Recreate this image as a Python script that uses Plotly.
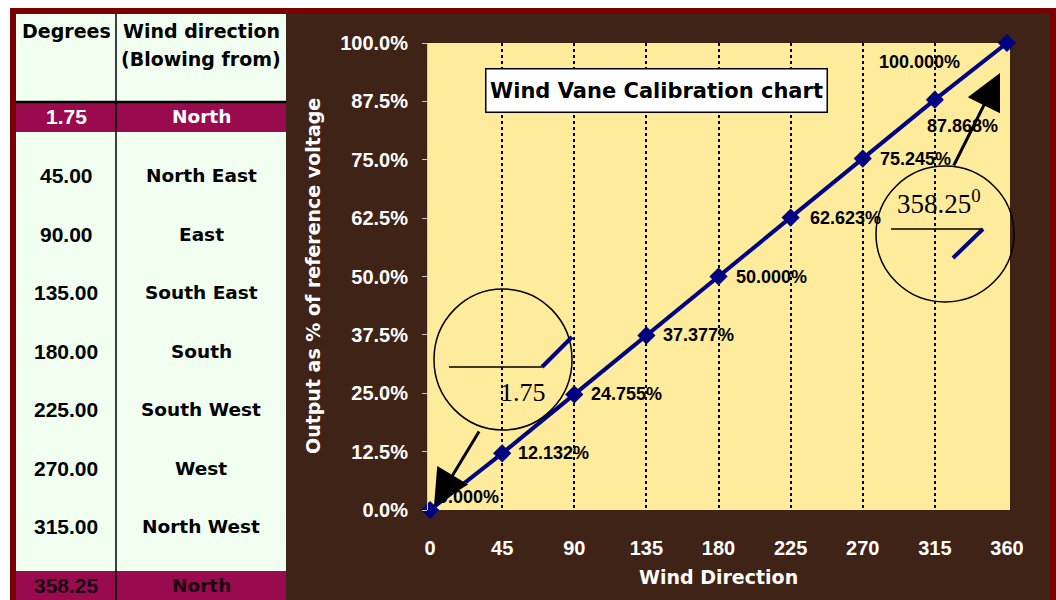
import plotly.graph_objects as go

# ---------------- data ----------------
wind_direction = [0, 45, 90, 135, 180, 225, 270, 315, 360]
output_fraction = [0.0, 0.12132, 0.24755, 0.37377, 0.50, 0.62623, 0.75245, 0.87868, 1.0]
point_labels = ["0.000%", "12.132%", "24.755%", "37.377%", "50.000%",
                "62.623%", "75.245%", "87.868%", "100.000%"]
x_ticks = [0, 45, 90, 135, 180, 225, 270, 315, 360]
y_ticks = [0, 0.125, 0.25, 0.375, 0.5, 0.625, 0.75, 0.875, 1.0]
y_tick_text = ["0.0%", "12.5%", "25.0%", "37.5%", "50.0%", "62.5%", "75.0%", "87.5%", "100.0%"]
grid_x = [45, 90, 135, 180, 225, 270, 315]

table_degrees = ["1.75", "45.00", "90.00", "135.00", "180.00", "225.00", "270.00", "315.00", "358.25"]
table_dirs = ["North", "North East", "East", "South East", "South", "South West", "West",
              "North West", "North"]
highlight_rows = [0, 8]

# ---------------- geometry helpers (pixel -> paper) ----------------
W, H = 1056, 600
PL, PR, PT, PB = 428, 1010, 43, 510


def px(x):
    return (x - PL) / (PR - PL)


def py(y):
    return (PB - y) / (PB - PT)


BROWN = "#3F2316"
DARKRED = "#7A0000"
MINT = "#F0FFF0"
HILITE = "#990B4E"
NAVY = "#000080"
PLOTBG = "#FFEB9C"

WORD_FONT = "DejaVu Sans"
NUM_FONT = "Liberation Sans, Arial"

fig = go.Figure()

fig.add_trace(go.Scatter(
    x=wind_direction, y=output_fraction, mode="lines+markers",
    line=dict(color=NAVY, width=4),
    marker=dict(symbol="diamond", size=14, color=NAVY),
    cliponaxis=False, showlegend=False, hoverinfo="skip",
))

shapes = []
annotations = []


def rect(x0, x1, y0, y1, color):
    shapes.append(dict(type="rect", xref="paper", yref="paper", x0=px(x0), x1=px(x1),
                       y0=py(y1), y1=py(y0), fillcolor=color, line_width=0, layer="above"))


def pline(x0, y0, x1, y1, color, width):
    shapes.append(dict(type="line", xref="paper", yref="paper", x0=px(x0), x1=px(x1),
                       y0=py(y0), y1=py(y1), line=dict(color=color, width=width), layer="above"))


def ptext(x, y, text, family, size, color, bold=True, **kw):
    f = dict(family=family, size=size, color=color)
    if bold:
        f["weight"] = "bold"
    d = dict(xref="paper", yref="paper", x=px(x), y=py(y), text=text, showarrow=False,
             xanchor="center", yanchor="middle", font=f)
    d.update(kw)
    annotations.append(d)


# outer frame
rect(0, W, 0, 8, "white")
rect(0, 10, 0, H, "white")
rect(10, W, 8, 14, DARKRED)
rect(10, 16, 8, H, DARKRED)
rect(1050, W, 8, H, DARKRED)

# table
TL, TR, TC, TT = 16, 286, 116, 14
rect(TL, TR, TT, H, MINT)
ROW0, ROWSTEP = 117, 58.5
for i in highlight_rows:
    cy = ROW0 + ROWSTEP * i
    rect(TL, TR, cy - 14, cy + 15, HILITE)
pline(TL, 102, TR, 102, "black", 2.5)
pline(TC, TT, TC, H, "black", 1.5)

ptext(66, 31, "Degrees", WORD_FONT, 19, "black")
ptext(201, 31, "Wind direction", WORD_FONT, 19, "black")
ptext(201, 59, "(Blowing from)", WORD_FONT, 19, "black")
for i, (d, n) in enumerate(zip(table_degrees, table_dirs)):
    cy = ROW0 + ROWSTEP * i
    if i == 0:
        col = "white"
    elif i in highlight_rows:
        col = "#1A0010"
    else:
        col = "black"
    ptext(66, cy, d, NUM_FONT, 21, col)
    ptext(201, cy, n, WORD_FONT, 18.5, col)

# axis titles
ptext(718, 577, "Wind Direction", WORD_FONT, 19, "white")
ptext(313, 276, "Output as % of reference voltage", WORD_FONT, 19, "white", textangle=-90)

# chart title box
ptext(656, 90, "Wind Vane Calibration chart", WORD_FONT, 21, "black",
      bgcolor="white", bordercolor="black", borderwidth=1.5, width=338, height=40, borderpad=1)

# data labels (offsets in px from each point)
label_style = [
    ("left", 6, 13), ("left", 14, 0), ("left", 15, 0), ("left", 15, 0), ("left", 15, 0),
    ("left", 17, 0), ("left", 15, 0), ("left", -10, -26), ("right", -45, -19),
]
for xv, yv, t, (anc, dx, dy) in zip(wind_direction, output_fraction, point_labels, label_style):
    annotations.append(dict(x=xv, y=yv, text=t, showarrow=False, xanchor=anc, yanchor="middle",
                            xshift=dx, yshift=dy,
                            font=dict(family=NUM_FONT, size=18, color="black", weight="bold")))

# circle callouts
shapes.append(dict(type="circle", xref="paper", yref="paper", x0=px(434), x1=px(572), y0=py(430), y1=py(289),
                   line=dict(color="black", width=1.5), layer="above"))
pline(449, 367, 542, 367, "black", 1.5)
pline(542, 367, 572, 337, NAVY, 4)
ptext(523, 392, "1.75", "Liberation Serif, Times New Roman", 26, "black", bold=False)

shapes.append(dict(type="circle", xref="paper", yref="paper", x0=px(876), x1=px(1014), y0=py(302), y1=py(166),
                   line=dict(color="black", width=1.5), layer="above"))
pline(891, 229, 983, 229, "black", 1.5)
pline(983, 229, 953, 258, NAVY, 4)
ptext(939, 202, "358.25<sup>0</sup>", "Liberation Serif, Times New Roman", 27, "black", bold=False)

# arrows
annotations.append(dict(xref="paper", yref="paper", x=px(434), y=py(506), text="", showarrow=True,
                        ax=46, ay=-76, arrowhead=2, arrowsize=2.4, arrowwidth=3, arrowcolor="black"))
annotations.append(dict(xref="paper", yref="paper", x=px(1000), y=py(73), text="", showarrow=True,
                        ax=-47, ay=94, arrowhead=2, arrowsize=2.4, arrowwidth=3, arrowcolor="black"))

fig.update_layout(
    width=W, height=H,
    margin=dict(l=PL, r=W - PR, t=PT, b=H - PB, pad=0),
    paper_bgcolor=BROWN, plot_bgcolor=PLOTBG,
    shapes=shapes, annotations=annotations,
    showlegend=False,
    xaxis=dict(range=[-1.3, 361.9], tickvals=x_ticks, ticktext=[str(v) for v in x_ticks],
               showgrid=False, zeroline=False, showline=False, ticks="",
               ticklabelstandoff=24, automargin=False,
               tickfont=dict(family=NUM_FONT, size=20, color="white", weight="bold"),
               minor=dict(tickvals=grid_x, showgrid=True, gridcolor="black", griddash="dot",
                          gridwidth=1.5, ticks="")),
    yaxis=dict(range=[0, 1], tickvals=y_ticks, ticktext=y_tick_text,
               showgrid=False, zeroline=False, showline=True, linecolor="#C8C8C8", linewidth=1,
               ticks="outside", ticklen=5, tickcolor="#C8C8C8", ticklabelstandoff=10,
               automargin=False,
               tickfont=dict(family=NUM_FONT, size=20, color="white", weight="bold")),
)

fig.write_html("out.html")
